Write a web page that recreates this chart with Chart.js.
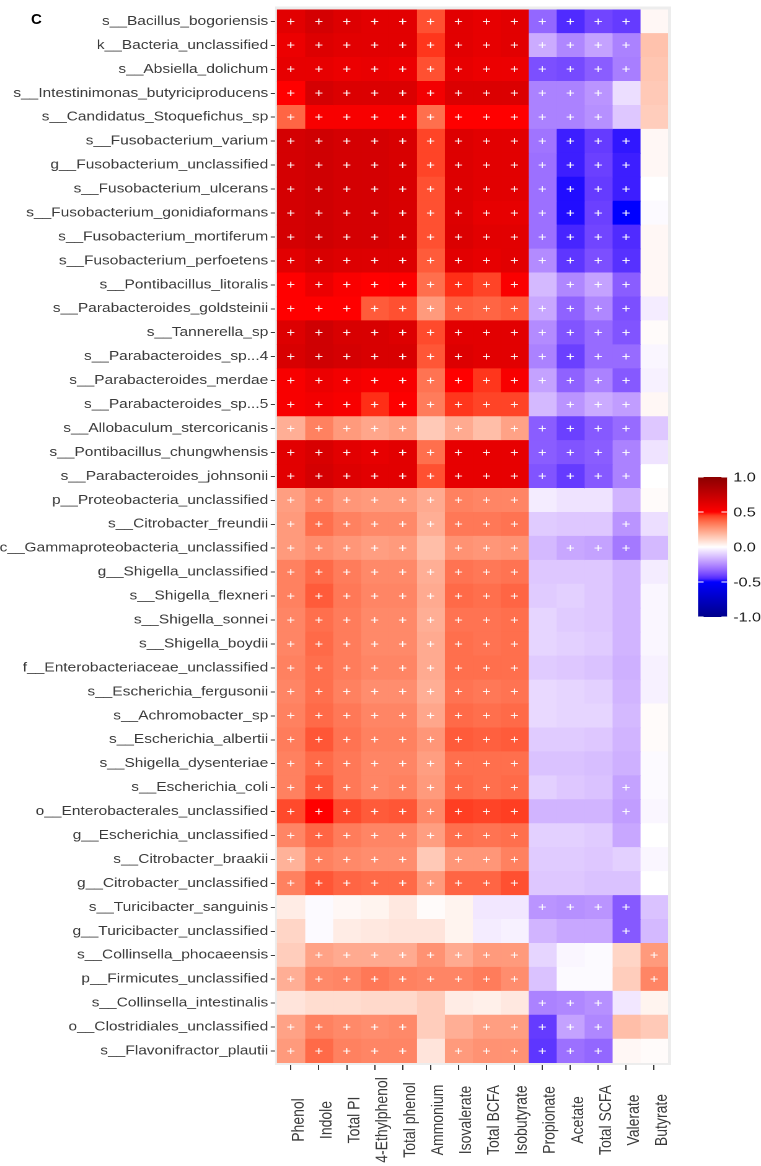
<!DOCTYPE html>
<html>
<head>
<meta charset="utf-8">
<script src="https://cdn.jsdelivr.net/npm/chart.js@4.4.0/dist/chart.umd.min.js"></script>
<style>
  html, body { margin: 0; padding: 0; background: #fff; }
  #wrap { position: relative; width: 761px; height: 1166px; overflow: hidden; }
  #chart { position: absolute; left: 0; top: 0; }
  #panel { position: absolute; left: 31px; top: 11px; font: bold 15px "Liberation Sans", Arial, sans-serif; color: #000; line-height: 15px; }
</style>
</head>
<body>
<div id="wrap">
  <!-- plot is drawn 614 wide and stretched to 761, like the source figure -->
  <canvas id="chart" width="614" height="1166" style="width:761px;height:1166px"></canvas>
  <div id="panel">C</div>
</div>
<script>
// ******** data ********
const taxa = [
  's__Bacillus_bogoriensis', 'k__Bacteria_unclassified', 's__Absiella_dolichum',
  's__Intestinimonas_butyriciproducens', 's__Candidatus_Stoquefichus_sp',
  's__Fusobacterium_varium', 'g__Fusobacterium_unclassified', 's__Fusobacterium_ulcerans',
  's__Fusobacterium_gonidiaformans', 's__Fusobacterium_mortiferum', 's__Fusobacterium_perfoetens',
  's__Pontibacillus_litoralis', 's__Parabacteroides_goldsteinii', 's__Tannerella_sp',
  's__Parabacteroides_sp...4', 's__Parabacteroides_merdae', 's__Parabacteroides_sp...5',
  's__Allobaculum_stercoricanis', 's__Pontibacillus_chungwhensis', 's__Parabacteroides_johnsonii',
  'p__Proteobacteria_unclassified', 's__Citrobacter_freundii', 'c__Gammaproteobacteria_unclassified',
  'g__Shigella_unclassified', 's__Shigella_flexneri', 's__Shigella_sonnei', 's__Shigella_boydii',
  'f__Enterobacteriaceae_unclassified', 's__Escherichia_fergusonii', 's__Achromobacter_sp',
  's__Escherichia_albertii', 's__Shigella_dysenteriae', 's__Escherichia_coli',
  'o__Enterobacterales_unclassified', 'g__Escherichia_unclassified', 's__Citrobacter_braakii',
  'g__Citrobacter_unclassified', 's__Turicibacter_sanguinis', 'g__Turicibacter_unclassified',
  's__Collinsella_phocaeensis', 'p__Firmicutes_unclassified', 's__Collinsella_intestinalis',
  'o__Clostridiales_unclassified', 's__Flavonifractor_plautii'
];

const measures = ['Phenol', 'Indole', 'Total PI', '4-Ethylphenol', 'Total phenol', 'Ammonium',
  'Isovalerate', 'Total BCFA', 'Isobutyrate', 'Propionate', 'Acetate', 'Total SCFA', 'Valerate', 'Butyrate'];

// correlation, one row per taxon, columns in the order of measures
const corr = [
  [0.62, 0.68, 0.64, 0.62, 0.62, 0.42, 0.62, 0.60, 0.62, -0.33, -0.45, -0.40, -0.42, 0.02],
  [0.58, 0.64, 0.62, 0.62, 0.62, 0.46, 0.62, 0.60, 0.62, -0.18, -0.26, -0.20, -0.27, 0.16],
  [0.60, 0.60, 0.58, 0.59, 0.58, 0.42, 0.60, 0.58, 0.58, -0.38, -0.39, -0.35, -0.28, 0.15],
  [0.50, 0.68, 0.65, 0.65, 0.65, 0.55, 0.65, 0.65, 0.65, -0.27, -0.27, -0.23, -0.07, 0.14],
  [0.38, 0.53, 0.53, 0.53, 0.53, 0.36, 0.50, 0.50, 0.50, -0.27, -0.27, -0.24, -0.12, 0.13],
  [0.68, 0.70, 0.68, 0.68, 0.66, 0.44, 0.64, 0.62, 0.62, -0.30, -0.47, -0.42, -0.48, 0.02],
  [0.68, 0.70, 0.68, 0.68, 0.66, 0.44, 0.64, 0.62, 0.62, -0.31, -0.47, -0.41, -0.47, 0.02],
  [0.68, 0.70, 0.68, 0.68, 0.66, 0.42, 0.64, 0.62, 0.62, -0.31, -0.49, -0.42, -0.47, 0.00],
  [0.68, 0.70, 0.68, 0.68, 0.66, 0.42, 0.64, 0.60, 0.60, -0.31, -0.49, -0.41, -0.50, -0.01],
  [0.68, 0.70, 0.68, 0.68, 0.66, 0.42, 0.65, 0.62, 0.62, -0.31, -0.46, -0.40, -0.45, 0.02],
  [0.62, 0.66, 0.64, 0.64, 0.64, 0.40, 0.62, 0.60, 0.62, -0.25, -0.43, -0.38, -0.44, 0.02],
  [0.50, 0.58, 0.52, 0.50, 0.51, 0.36, 0.47, 0.44, 0.52, -0.15, -0.26, -0.20, -0.35, 0.02],
  [0.50, 0.50, 0.50, 0.40, 0.42, 0.26, 0.39, 0.38, 0.40, -0.19, -0.34, -0.26, -0.38, -0.04],
  [0.64, 0.70, 0.66, 0.66, 0.64, 0.43, 0.62, 0.62, 0.62, -0.25, -0.37, -0.32, -0.37, 0.01],
  [0.66, 0.70, 0.68, 0.66, 0.66, 0.41, 0.64, 0.62, 0.62, -0.27, -0.41, -0.32, -0.32, -0.02],
  [0.53, 0.58, 0.55, 0.53, 0.53, 0.35, 0.50, 0.46, 0.53, -0.20, -0.34, -0.27, -0.36, -0.03],
  [0.53, 0.55, 0.53, 0.47, 0.51, 0.33, 0.46, 0.44, 0.44, -0.15, -0.23, -0.18, -0.21, 0.02],
  [0.21, 0.32, 0.26, 0.23, 0.25, 0.14, 0.22, 0.17, 0.24, -0.35, -0.41, -0.36, -0.32, -0.12],
  [0.62, 0.66, 0.62, 0.60, 0.62, 0.36, 0.60, 0.60, 0.60, -0.35, -0.37, -0.35, -0.27, -0.06],
  [0.62, 0.68, 0.64, 0.62, 0.62, 0.42, 0.60, 0.60, 0.60, -0.37, -0.42, -0.36, -0.27, 0.00],
  [0.25, 0.31, 0.27, 0.26, 0.26, 0.22, 0.32, 0.31, 0.31, -0.04, -0.06, -0.06, -0.16, 0.01],
  [0.26, 0.36, 0.32, 0.30, 0.30, 0.21, 0.34, 0.34, 0.35, -0.11, -0.12, -0.12, -0.23, -0.07],
  [0.26, 0.29, 0.27, 0.25, 0.26, 0.17, 0.28, 0.27, 0.28, -0.15, -0.19, -0.20, -0.29, -0.15],
  [0.32, 0.37, 0.33, 0.30, 0.30, 0.21, 0.35, 0.34, 0.35, -0.12, -0.12, -0.12, -0.16, -0.04],
  [0.32, 0.40, 0.34, 0.31, 0.31, 0.22, 0.37, 0.36, 0.38, -0.11, -0.10, -0.12, -0.16, -0.02],
  [0.31, 0.36, 0.33, 0.30, 0.30, 0.21, 0.35, 0.35, 0.36, -0.09, -0.11, -0.12, -0.16, -0.02],
  [0.31, 0.37, 0.33, 0.30, 0.30, 0.22, 0.36, 0.35, 0.36, -0.09, -0.10, -0.11, -0.16, -0.02],
  [0.32, 0.36, 0.33, 0.31, 0.31, 0.22, 0.36, 0.36, 0.36, -0.11, -0.12, -0.13, -0.17, -0.03],
  [0.31, 0.36, 0.32, 0.29, 0.29, 0.21, 0.35, 0.34, 0.35, -0.08, -0.09, -0.10, -0.16, -0.03],
  [0.32, 0.37, 0.34, 0.31, 0.31, 0.23, 0.37, 0.36, 0.37, -0.08, -0.09, -0.09, -0.15, 0.01],
  [0.33, 0.41, 0.35, 0.32, 0.32, 0.27, 0.40, 0.39, 0.40, -0.11, -0.11, -0.12, -0.16, 0.01],
  [0.32, 0.37, 0.34, 0.31, 0.31, 0.25, 0.36, 0.36, 0.36, -0.13, -0.13, -0.14, -0.17, -0.01],
  [0.32, 0.41, 0.34, 0.31, 0.32, 0.26, 0.37, 0.36, 0.37, -0.10, -0.12, -0.13, -0.20, -0.01],
  [0.43, 0.50, 0.43, 0.40, 0.41, 0.30, 0.45, 0.44, 0.45, -0.16, -0.16, -0.16, -0.21, -0.02],
  [0.31, 0.38, 0.33, 0.31, 0.31, 0.25, 0.36, 0.35, 0.36, -0.10, -0.10, -0.11, -0.19, 0.00],
  [0.20, 0.32, 0.30, 0.29, 0.29, 0.14, 0.27, 0.27, 0.32, -0.11, -0.11, -0.12, -0.10, -0.02],
  [0.32, 0.41, 0.38, 0.37, 0.37, 0.26, 0.38, 0.38, 0.42, -0.12, -0.12, -0.13, -0.13, 0.00],
  [0.05, -0.01, 0.02, 0.03, 0.06, 0.01, 0.03, -0.05, -0.05, -0.23, -0.24, -0.23, -0.36, -0.13],
  [0.11, -0.01, 0.05, 0.06, 0.07, 0.07, 0.03, -0.04, -0.03, -0.16, -0.19, -0.19, -0.36, -0.15],
  [0.13, 0.24, 0.22, 0.22, 0.22, 0.28, 0.22, 0.26, 0.26, -0.09, -0.02, -0.01, 0.11, 0.26],
  [0.21, 0.30, 0.31, 0.34, 0.32, 0.31, 0.31, 0.33, 0.29, -0.13, -0.01, -0.01, 0.13, 0.31],
  [0.07, 0.09, 0.09, 0.10, 0.10, 0.13, 0.05, 0.04, 0.06, -0.27, -0.26, -0.24, -0.05, 0.03],
  [0.24, 0.32, 0.30, 0.29, 0.30, 0.13, 0.21, 0.25, 0.25, -0.42, -0.20, -0.26, 0.17, 0.14],
  [0.26, 0.37, 0.32, 0.31, 0.31, 0.07, 0.26, 0.28, 0.28, -0.43, -0.31, -0.33, 0.02, 0.01]
];

// significance ('+'), same layout as corr
const sig = [
  '11111111111110', '11111111111110', '11111111111110', '11111111111100', '11111111111100',
  '11111111111110', '11111111111110', '11111111111110', '11111111111110', '11111111111110',
  '11111111111110', '11111111101110', '11111111111110', '11111111111110', '11111111111110',
  '11111111111110', '11111111101110', '11111010111110', '11111111111110', '11111111111110',
  '11111111100000', '11111111100010', '11111011101110', '11111111100000', '11111111100000',
  '11111111100000', '11111111100000', '11111111100000', '11111111100000', '11111111100000',
  '11111111100000', '11111111100000', '11111111100010', '11111111100010', '11111111100000',
  '11111011100000', '11111111100000', '00000000011110', '00000000000010', '01111111100001',
  '11111111100001', '00000000011100', '11111001111100', '11111011111100'
];

const legendBreaks = [1, 0.5, 0, -0.5, -1];

// ******** colour scale (ggplot gradientn, interpolated in Lab) ********
const stopVals = [-1, -0.5, 0, 0.5, 1];
const stopCols = [[0, 0, 139], [0, 0, 255], [255, 255, 255], [255, 0, 0], [139, 0, 0]];

function toLin(c) { c /= 255; return c <= 0.04045 ? c / 12.92 : Math.pow((c + 0.055) / 1.055, 2.4); }
function toGam(c) { c = c <= 0.0031308 ? 12.92 * c : 1.055 * Math.pow(c, 1 / 2.4) - 0.055; return Math.round(Math.min(1, Math.max(0, c)) * 255); }

function rgbToLab(rgb) {
  const [r, g, b] = rgb.map(toLin);
  const x = (0.4124 * r + 0.3576 * g + 0.1805 * b) / 0.95047;
  const y = 0.2126 * r + 0.7152 * g + 0.0722 * b;
  const z = (0.0193 * r + 0.1192 * g + 0.9505 * b) / 1.08883;
  const f = t => t > 0.008856 ? Math.cbrt(t) : 7.787 * t + 16 / 116;
  return [116 * f(y) - 16, 500 * (f(x) - f(y)), 200 * (f(y) - f(z))];
}

function labToRgb([L, a, bb]) {
  const fy = (L + 16) / 116, fx = fy + a / 500, fz = fy - bb / 200;
  const inv = t => t * t * t > 0.008856 ? t * t * t : (t - 16 / 116) / 7.787;
  const x = inv(fx) * 0.95047, y = inv(fy), z = inv(fz) * 1.08883;
  const r = 3.2406 * x - 1.5372 * y - 0.4986 * z;
  const g = -0.9689 * x + 1.8758 * y + 0.0415 * z;
  const b = 0.0557 * x - 0.2040 * y + 1.0570 * z;
  return [toGam(r), toGam(g), toGam(b)];
}

const stopLabs = stopCols.map(rgbToLab);

function fillFor(v) {
  v = Math.max(-1, Math.min(1, v));
  let k = 0;
  while (k < stopVals.length - 2 && v > stopVals[k + 1]) k++;
  const t = (v - stopVals[k]) / (stopVals[k + 1] - stopVals[k]);
  const A = stopLabs[k], B = stopLabs[k + 1];
  const rgb = labToRgb([0, 1, 2].map(i => A[i] + (B[i] - A[i]) * t));
  return `rgb(${rgb[0]},${rgb[1]},${rgb[2]})`;
}

const FONT = '"Liberation Sans", Arial, sans-serif';
const TEXT = '#3a3a3a';

// ******** plugins ********
const panelBg = {
  id: 'panelBg',
  beforeDatasetsDraw(chart) {
    const { ctx, chartArea: a } = chart;
    ctx.save();
    ctx.fillStyle = '#ededed';
    ctx.fillRect(a.left - 1.5, a.top - 3, a.right - a.left + 4, a.bottom - a.top + 5);
    ctx.restore();
  }
};

const plusSigns = {
  id: 'plusSigns',
  afterDatasetsDraw(chart) {
    const { ctx } = chart;
    const xs = chart.scales.x, ys = chart.scales.y;
    ctx.save();
    ctx.fillStyle = '#ffffff';
    ctx.font = '12px ' + FONT;
    ctx.textAlign = 'center';
    ctx.textBaseline = 'middle';
    sig.forEach((row, i) => {
      [...row].forEach((s, j) => {
        if (s === '1') ctx.fillText('+', xs.getPixelForValue(j + 0.5), ys.getPixelForValue(i) + 0.5);
      });
    });
    ctx.restore();
  }
};

// bottom labels: vertical, centred on a common line (ggplot hjust = 0.5)
const xLabels = {
  id: 'xLabels',
  afterDraw(chart) {
    const { ctx } = chart;
    const xs = chart.scales.x;
    const midY = xs.bottom - 46;
    ctx.save();
    ctx.fillStyle = TEXT;
    ctx.font = '14px ' + FONT;
    ctx.textAlign = 'center';
    ctx.textBaseline = 'middle';
    measures.forEach((m, j) => {
      ctx.save();
      ctx.translate(xs.getPixelForValue(j + 0.5) + 6.3, midY);
      ctx.rotate(-Math.PI / 2);
      ctx.fillText(m, 0, 0);
      ctx.restore();
    });
    ctx.restore();
  }
};

// colour bar legend on the right
const colorBar = {
  id: 'colorBar',
  afterDraw(chart) {
    const { ctx } = chart;
    const left = 563.2, w = 23.4, top = 477, bottom = 617;
    const pos = v => top + (1 - v) / 2 * (bottom - top);
    ctx.save();
    const grad = ctx.createLinearGradient(0, top, 0, bottom);
    for (let k = 0; k <= 40; k++) grad.addColorStop(k / 40, fillFor(1 - 2 * k / 40));
    ctx.fillStyle = grad;
    ctx.fillRect(left, top, w, bottom - top);
    ctx.strokeStyle = '#ffffff';
    ctx.lineWidth = 1;
    ctx.font = '13px ' + FONT;
    ctx.fillStyle = '#1a1a1a';
    ctx.textAlign = 'left';
    ctx.textBaseline = 'middle';
    legendBreaks.forEach(b => {
      const y = pos(b);
      ctx.beginPath();
      ctx.moveTo(left, y); ctx.lineTo(left + 4.5, y);
      ctx.moveTo(left + w - 4.5, y); ctx.lineTo(left + w, y);
      ctx.stroke();
      ctx.fillText(b.toFixed(1), left + w + 5, y + 1);
    });
    ctx.restore();
  }
};

// ******** chart ********
const ctx = document.getElementById('chart').getContext('2d');
new Chart(ctx, {
  type: 'bar',
  data: {
    labels: taxa,
    datasets: measures.map((m, j) => ({
      label: m,
      data: taxa.map(() => 1),
      backgroundColor: corr.map(r => fillFor(r[j])),
      borderWidth: 0,
      barPercentage: 1,
      categoryPercentage: 1
    }))
  },
  options: {
    indexAxis: 'y',
    responsive: false,
    devicePixelRatio: 2,
    animation: false,
    events: [],
    layout: { padding: { top: 3, right: 75, left: 0, bottom: 0 } },
    plugins: { legend: { display: false }, tooltip: { enabled: false } },
    scales: {
      x: {
        type: 'linear',
        stacked: true,
        min: 0,
        max: measures.length,
        afterBuildTicks: s => { s.ticks = measures.map((m, j) => ({ value: j + 0.5 })); },
        afterFit: s => { s.height = 103; },
        ticks: { display: false },
        grid: { drawOnChartArea: false, tickLength: 7, color: TEXT },
        border: { display: false }
      },
      y: {
        stacked: true,
        afterFit: s => { s.width = 223.4; },
        ticks: { autoSkip: false, padding: 2, color: TEXT, font: { family: FONT, size: 12.5 } },
        grid: { drawOnChartArea: false, offset: false, tickLength: 5, color: TEXT },
        border: { display: false }
      }
    }
  },
  plugins: [panelBg, plusSigns, xLabels, colorBar]
});
</script>
</body>
</html>
